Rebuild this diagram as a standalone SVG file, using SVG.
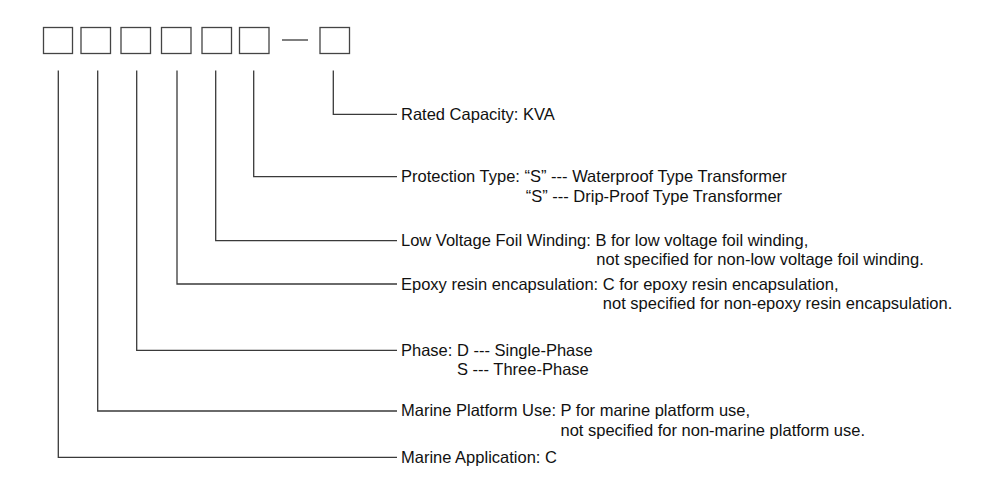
<svg xmlns="http://www.w3.org/2000/svg" width="1000" height="500" viewBox="0 0 1000 500">
<style>
.box{fill:#fff;stroke:#444;stroke-width:1.3}
.ln{fill:none;stroke:#3a3a3a;stroke-width:1.3}
text{font-family:"Liberation Sans",Arial,sans-serif;font-size:16.5px;fill:#111}
</style>
<rect width="1000" height="500" fill="#fff"/>
<g id="code">
<g id="box1"><rect class="box" x="43.5" y="27.5" width="29" height="26"/></g>
<g id="box2"><rect class="box" x="81" y="27.5" width="29.5" height="26"/></g>
<g id="box3"><rect class="box" x="121" y="27.5" width="29.5" height="26"/></g>
<g id="box4"><rect class="box" x="161.5" y="27.5" width="29.5" height="26"/></g>
<g id="box5"><rect class="box" x="202" y="27.5" width="29.5" height="26"/></g>
<g id="box6"><rect class="box" x="239.5" y="27.5" width="29.5" height="26"/></g>
<g id="dash"><line class="ln" x1="282" y1="40" x2="308" y2="40"/></g>
<g id="box7"><rect class="box" x="320" y="27.5" width="29.5" height="26"/></g>
</g>
<g id="connectors">
<path class="ln" d="M333.3 70.5 V114.3 H397"/>
<path class="ln" d="M253.7 70.5 V176.7 H397"/>
<path class="ln" d="M215.7 70.5 V240.7 H397"/>
<path class="ln" d="M177 70.5 V284 H397"/>
<path class="ln" d="M136.7 70.5 V350.3 H397"/>
<path class="ln" d="M97.7 70.5 V411 H397"/>
<path class="ln" d="M58.3 70.5 V457.3 H397"/>
</g>
<g id="label-capacity"><text x="401" y="119.5">Rated Capacity: KVA</text></g>
<g id="label-protection">
<text x="401" y="182">Protection Type: “S” --- Waterproof Type Transformer</text>
<text x="525.7" y="201.5">“S” --- Drip-Proof Type Transformer</text>
</g>
<g id="label-lowvoltage">
<text x="401" y="246">Low Voltage Foil Winding: B for low voltage foil winding,</text>
<text x="596.3" y="265">not specified for non-low voltage foil winding.</text>
</g>
<g id="label-epoxy">
<text x="401" y="289.5">Epoxy resin encapsulation: C for epoxy resin encapsulation,</text>
<text x="602.8" y="308.5">not specified for non-epoxy resin encapsulation.</text>
</g>
<g id="label-phase">
<text x="401" y="355.5">Phase: D --- Single-Phase</text>
<text x="457" y="374.5">S --- Three-Phase</text>
</g>
<g id="label-platform">
<text x="401" y="416">Marine Platform Use: P for marine platform use,</text>
<text x="560.5" y="436">not specified for non-marine platform use.</text>
</g>
<g id="label-marine"><text x="401" y="462.5">Marine Application: C</text></g>
</svg>
